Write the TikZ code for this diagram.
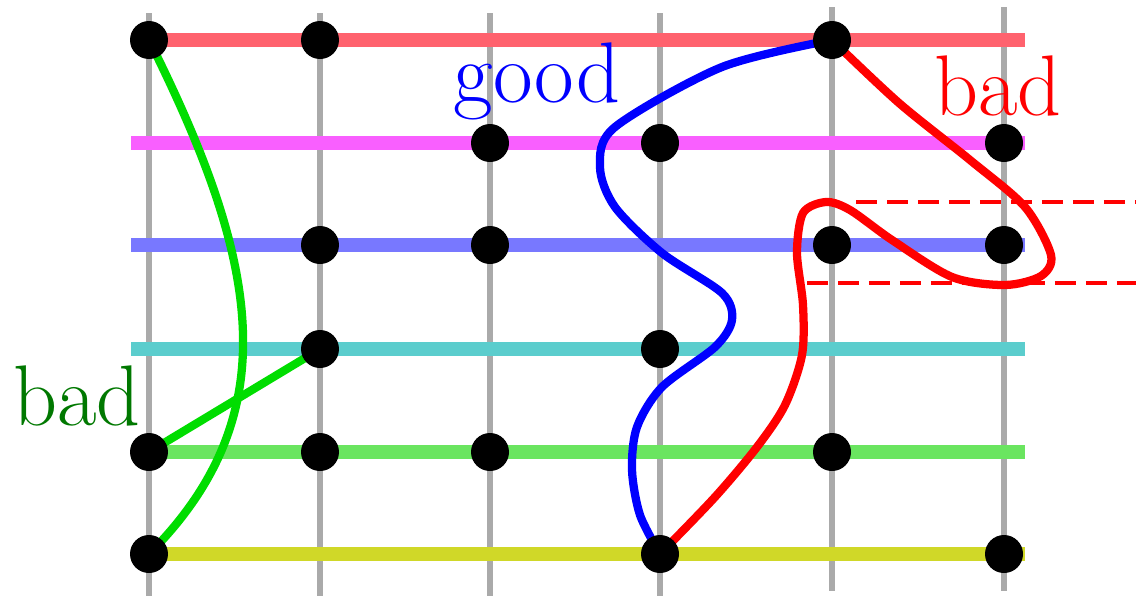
\documentclass[tikz,border=0pt]{standalone}
\usetikzlibrary{calc}
\pgfdeclarelayer{bga}
\pgfdeclarelayer{bgb}
\pgfdeclarelayer{bgc}
\pgfsetlayers{bga,bgb,bgc,main}
\definecolor{hred}{RGB}{255,98,110}
\definecolor{hmag}{RGB}{249,95,255}
\definecolor{hblue}{RGB}{120,120,255}
\definecolor{hcyan}{RGB}{91,205,205}
\definecolor{hgreen}{RGB}{106,229,96}
\definecolor{hyellow}{RGB}{208,216,40}
\definecolor{gridgray}{RGB}{170,170,170}
\definecolor{cgreen}{RGB}{0,221,0}
\definecolor{tgreen}{RGB}{0,120,0}
\tikzset{
  dot/.style={circle,fill=black,inner sep=0pt,minimum size=0.76cm},
  vline/.style={draw=gridgray,line width=3.4pt},
  hline/.style={line width=8.5pt},
  curve/.style={line width=4.7pt},
  lbl/.style={anchor=base,inner sep=0pt,font=\fontsize{49}{56}\selectfont},
  guide/.style={draw=red,line width=1.8pt,dash pattern=on 0.42cm off 0.2cm}
}
\begin{document}
\begin{tikzpicture}[x=0.02cm,y=-0.02cm]
\useasboundingbox (0,0) rectangle (1136,596);
% dots
\node[dot] (d11) at (149,40) {};
\node[dot] (d12) at (320,40) {};
\node[dot] (d15) at (832,40) {};
\node[dot] (d23) at (490,143) {};
\node[dot] (d24) at (660,143) {};
\node[dot] (d26) at (1004,143) {};
\node[dot] (d32) at (320,245) {};
\node[dot] (d33) at (490,245) {};
\node[dot] (d35) at (832,245) {};
\node[dot] (d36) at (1004,245) {};
\node[dot] (d42) at (320,349) {};
\node[dot] (d44) at (660,349) {};
\node[dot] (d51) at (149,452) {};
\node[dot] (d52) at (320,452) {};
\node[dot] (d53) at (490,452) {};
\node[dot] (d55) at (832,452) {};
\node[dot] (d61) at (149,554) {};
\node[dot] (d64) at (660,554) {};
\node[dot] (d66) at (1004,554) {};
% labels
\node[lbl,text=tgreen] (lgreen) at (77,425) {bad};
\node[lbl,text=blue] (lgood) at (537,102) {good};
\node[lbl,text=red] (lred) at (998,115) {bad};
% grid
\begin{pgfonlayer}{bga}
\foreach \x in {149,320,490,660} \draw[vline] (\x,13) -- (\x,596);
\foreach \x in {832,1004} \draw[vline] (\x,7) -- (\x,591);
\end{pgfonlayer}
\begin{pgfonlayer}{bgb}
\draw[hline,draw=hred] (131,40) -- (1025,40);
\draw[hline,draw=hmag] (131,143) -- (1025,143);
\draw[hline,draw=hblue] (131,245) -- (1025,245);
\draw[hline,draw=hcyan] (131,349) -- (1025,349);
\draw[hline,draw=hgreen] (131,452) -- (1025,452);
\draw[hline,draw=hyellow] (131,554) -- (1025,554);
\end{pgfonlayer}
\begin{pgfonlayer}{bgc}
\draw[curve,draw=cgreen] (d11.center) .. controls (259,260) and (289,414) .. (d61.center);
\draw[curve,draw=cgreen] (d51.center) -- (d42.center);
\draw[curve,draw=blue] plot[smooth] coordinates {(d15.center) (722,67) (615,127) (600,167) (615,207) (662,253) (722,293) (732,320) (715,347) (662,387) (637,427) (632,470) (640,515) (d64.center)};
\draw[curve,draw=red] plot[smooth] coordinates {(d15.center) (899,103) (970,160) (1025,207) (1051,255) (1041,276) (1005,285) (952,277) (892,240) (850,210) (826,202) (803,213) (797,253) (803,305) (802,355) (785,405) (757,447) (715,497) (d64.center)};
\coordinate (ua) at (856,202);
\coordinate (ub) at (1136,202);
\coordinate (la) at (807,283);
\coordinate (lb) at (1136,283);
\draw[guide] (ua) -- (ub);
\draw[guide] (la) -- (lb);
\end{pgfonlayer}
\end{tikzpicture}
\end{document}
